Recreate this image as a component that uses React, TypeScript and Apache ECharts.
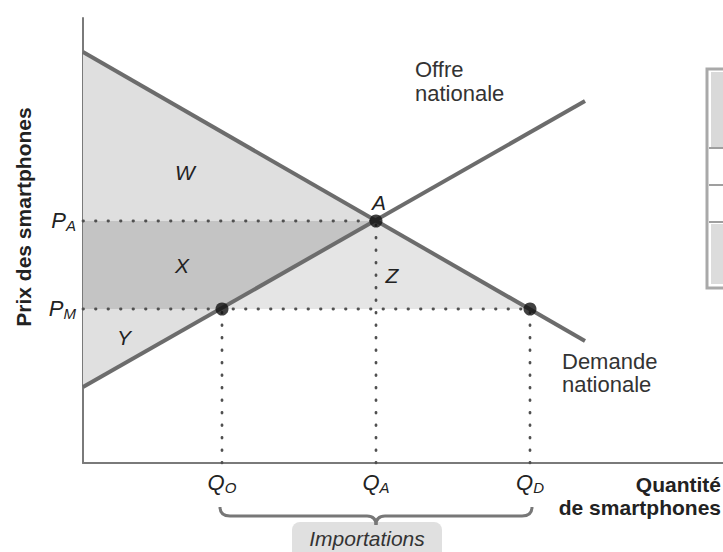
import React, { useEffect, useRef } from 'react';
import * as echarts from 'echarts';

// ---- data (abstract units) ----
const priceValues = [24.2, 15.4]; // P_A, P_M
const priceSubs = ['A', 'M'];
const quantityValues = [13.9, 29.3, 44.7]; // Q_O, Q_A, Q_D
const quantitySubs = ['O', 'A', 'D'];
const demandLine = [[0, 41.1], [50.2, 12.2]];
const supplyLine = [[0, 7.6], [50.2, 36.2]];
const markedPoints = [[13.9, 15.4], [29.3, 24.2], [44.7, 15.4]];
const areaNames = ['W', 'X', 'Y', 'Z'];
const areaW = [[0, 41.1], [0, 24.2], [29.3, 24.2]];
const areaX = [[0, 24.2], [29.3, 24.2], [13.9, 15.4], [0, 15.4]];
const areaY = [[0, 15.4], [13.9, 15.4], [0, 7.6]];
const areaZ = [[13.9, 15.4], [29.3, 24.2], [44.7, 15.4]];
const guideLines = [
  [[0, 24.2], [29.3, 24.2]],
  [[0, 15.4], [44.7, 15.4]],
  [[13.9, 0], [13.9, 15.4]],
  [[29.3, 0], [29.3, 24.2]],
  [[44.7, 0], [44.7, 15.4]],
];

const areas = [areaW, areaX, areaY, areaZ];
const areaFill = ['#dfdfdf', '#c4c4c4', '#e0e0e0', '#e5e5e5'];
const FONT = '"Liberation Sans", Arial, Helvetica, sans-serif';

const subRich = {
  m: { fontSize: 22, fontStyle: 'italic', fontFamily: FONT, color: '#222', lineHeight: 24, verticalAlign: 'top' },
  s: { fontSize: 15, fontStyle: 'italic', fontFamily: FONT, color: '#222', lineHeight: 12, verticalAlign: 'bottom' },
};

export default function App() {
  const ref = useRef<HTMLDivElement>(null);
  useEffect(() => {
    if (!ref.current) return;
    const chart = echarts.init(ref.current, null, { renderer: 'svg' });
    const series: any[] = [];
    series.push({
      type: 'custom',
      silent: true,
      clip: false,
      z: 1,
      data: areas.map((_, i) => [i, i]),
      renderItem: (params: any, api: any) => {
        const pts = areas[params.dataIndex].map((p) => api.coord(p));
        return { type: 'polygon', shape: { points: pts }, style: { fill: areaFill[params.dataIndex] } };
      },
    });
    guideLines.forEach((g) => {
      series.push({
        type: 'line',
        data: g,
        symbol: 'none',
        silent: true,
        z: 2,
        lineStyle: { color: '#505050', width: 2.8, type: [0.5, 12], cap: 'round' },
      });
    });
    [demandLine, supplyLine].forEach((l) => {
      series.push({
        type: 'line',
        data: l,
        symbol: 'none',
        silent: true,
        z: 3,
        lineStyle: { color: '#6c6c6c', width: 4 },
      });
    });
    series.push({
      type: 'scatter',
      data: markedPoints,
      symbolSize: 13,
      z: 4,
      itemStyle: { color: '#111' },
    });

    chart.setOption({
      animation: false,
      backgroundColor: '#fff',
      grid: { left: 83, top: 18, width: 640, height: 445 },
      xAxis: {
        type: 'value',
        min: 0,
        max: 64,
        splitLine: { show: false },
        axisTick: { show: false },
        axisLine: { show: true, lineStyle: { color: '#7a7a7a', width: 2 } },
        axisLabel: {
          customValues: quantityValues,
          margin: 8,
          formatter: (v: number) => {
            const i = quantityValues.indexOf(v);
            return '{m|Q}{s|' + (i >= 0 ? quantitySubs[i] : '') + '}';
          },
          rich: subRich,
        },
      },
      yAxis: {
        type: 'value',
        min: 0,
        max: 44.5,
        splitLine: { show: false },
        axisTick: { show: false },
        axisLine: { show: true, lineStyle: { color: '#7a7a7a', width: 2 } },
        axisLabel: {
          customValues: priceValues,
          margin: 7,
          formatter: (v: number) => {
            const i = priceValues.indexOf(v);
            return '{m|P}{s|' + (i >= 0 ? priceSubs[i] : '') + '}';
          },
          rich: subRich,
        },
      },
      series,
    });

    const px = (x: number, y: number) => chart.convertToPixel({ gridIndex: 0 }, [x, y]) as number[];
    const x0 = px(quantityValues[0], 0)[0] - 2;
    const xm = px(quantityValues[1], 0)[0];
    const x1 = px(quantityValues[2], 0)[0] + 2;
    const yTop = 507, yMid = 516, yTip = 525;
    const braceStyle = { stroke: '#777', lineWidth: 3, fill: null };
    const T = (text: string, x: number, y: number, font: string, align: string, fill = '#222', rotation = 0) => ({
      type: 'text',
      x,
      y,
      z: 100,
      rotation,
      style: { text, font: font + ' ' + FONT, fill, align, verticalAlign: 'middle' },
    });

    chart.setOption({
      graphic: [
        // partial table at the right edge
        { type: 'rect', z: 100, shape: { x: 707, y: 69, width: 30, height: 219 }, style: { fill: '#fff', stroke: '#a9a9a9', lineWidth: 3 } },
        { type: 'rect', z: 100, shape: { x: 711, y: 72, width: 20, height: 75 }, style: { fill: '#d9d9d9' } },
        { type: 'rect', z: 100, shape: { x: 711, y: 224, width: 20, height: 60 }, style: { fill: '#dcdcdc' } },
        { type: 'line', z: 100, shape: { x1: 709, y1: 148, x2: 723, y2: 148 }, style: { stroke: '#9f9f9f', lineWidth: 2 } },
        { type: 'line', z: 100, shape: { x1: 709, y1: 185, x2: 723, y2: 185 }, style: { stroke: '#9f9f9f', lineWidth: 2 } },
        { type: 'line', z: 100, shape: { x1: 709, y1: 222, x2: 723, y2: 222 }, style: { stroke: '#9f9f9f', lineWidth: 2 } },
        // axis titles
        T('Prix des smartphones', 23, 217, 'bold 21px', 'center', '#222', Math.PI / 2),
        T('Quantité', 721, 484, 'bold 21px', 'right'),
        T('de smartphones', 721, 507, 'bold 21px', 'right'),
        // curve labels
        T('Offre', 415, 69, '22px', 'left', '#333'),
        T('nationale', 415, 93, '22px', 'left', '#333'),
        T('Demande', 562, 361, '22px', 'left', '#333'),
        T('nationale', 562, 384, '22px', 'left', '#333'),
        // area and point labels
        T(areaNames[0], 185, 172, 'italic 21px', 'center'),
        T(areaNames[1], 182, 265, 'italic 21px', 'center'),
        T(areaNames[2], 124, 337, 'italic 21px', 'center'),
        T(areaNames[3], 392, 275, 'italic 21px', 'center'),
        T('A', 379, 202, 'italic 21px', 'center'),
        // brace
        { type: 'bezierCurve', z: 100, shape: { x1: x0, y1: yTop, x2: x0 + 10, y2: yMid, cpx1: x0, cpy1: yMid }, style: braceStyle },
        { type: 'line', z: 100, shape: { x1: x0 + 10, y1: yMid, x2: xm - 9, y2: yMid }, style: braceStyle },
        { type: 'bezierCurve', z: 100, shape: { x1: xm - 9, y1: yMid, x2: xm, y2: yTip, cpx1: xm, cpy1: yMid }, style: braceStyle },
        { type: 'bezierCurve', z: 100, shape: { x1: xm, y1: yTip, x2: xm + 9, y2: yMid, cpx1: xm, cpy1: yMid }, style: braceStyle },
        { type: 'line', z: 100, shape: { x1: xm + 9, y1: yMid, x2: x1 - 10, y2: yMid }, style: braceStyle },
        { type: 'bezierCurve', z: 100, shape: { x1: x1 - 10, y1: yMid, x2: x1, y2: yTop, cpx1: x1, cpy1: yMid }, style: braceStyle },
        // importations box
        { type: 'rect', z: 99, shape: { x: 292, y: 522, width: 150, height: 40, r: 8 }, style: { fill: '#e0e0e0' } },
        T('Importations', 367, 538, 'italic 21px', 'center', '#333'),
      ],
    });

    return () => chart.dispose();
  }, []);
  return (
    <div
      ref={ref}
      style={{ position: 'fixed', left: 0, top: 0, width: 723, height: 552, background: '#fff' }}
    />
  );
}
